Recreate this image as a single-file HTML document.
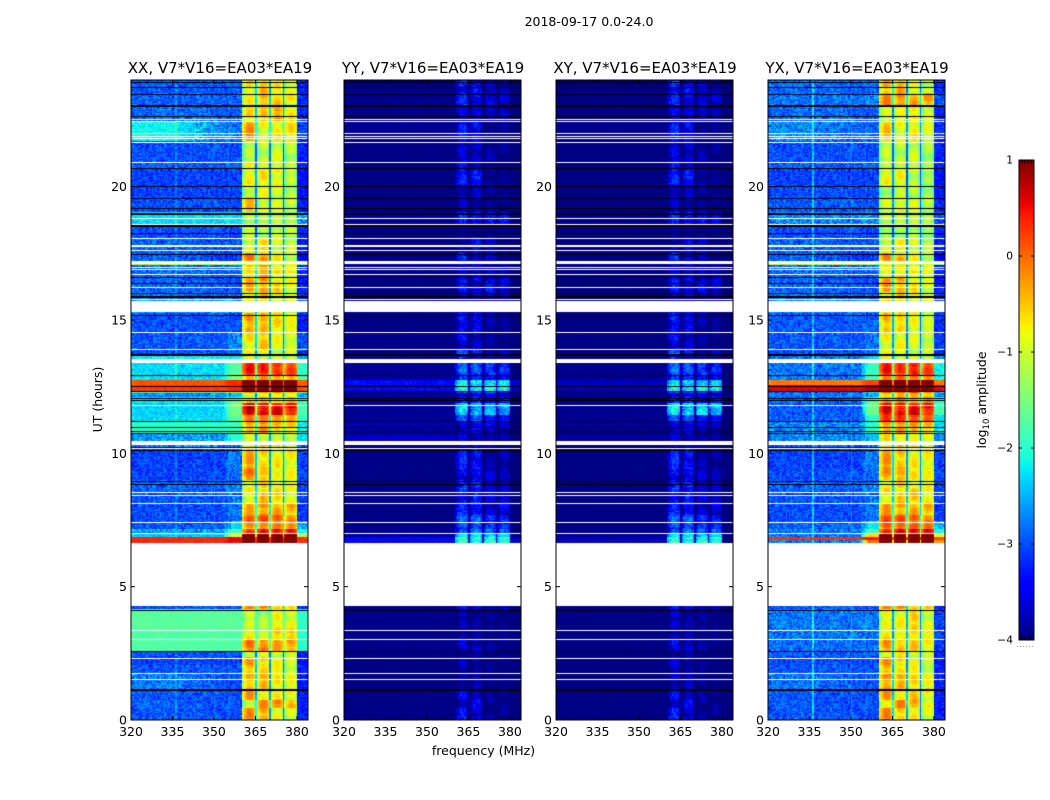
<!DOCTYPE html>
<html lang="en">
<head>
<meta charset="utf-8">
<title>2018-09-17 amplitude waterfall</title>
<style>
html,body{margin:0;padding:0;background:#fff;width:1050px;height:800px;overflow:hidden}
#figure{position:relative;width:1050px;height:800px}
canvas{position:absolute;display:block}
svg{position:absolute;left:0;top:0}
text{font-family:"DejaVu Sans","Liberation Sans",sans-serif;fill:#000}
</style>
</head>
<body>
<div id="figure">
<canvas id="heat-xx" width="177" height="640" style="left:131px;top:80px"></canvas>
<canvas id="heat-yy" width="177" height="640" style="left:344px;top:80px"></canvas>
<canvas id="heat-xy" width="177" height="640" style="left:556px;top:80px"></canvas>
<canvas id="heat-yx" width="177" height="640" style="left:768px;top:80px"></canvas>
<svg id="overlay" width="1050" height="800" viewBox="0 0 1050 800">
<defs><linearGradient id="jet-gradient" x1="0" y1="1" x2="0" y2="0"></linearGradient></defs>
<text x="589" y="26" text-anchor="middle" font-size="12.5">2018-09-17 0.0-24.0</text>
<text x="483.5" y="755" text-anchor="middle" font-size="12.5">frequency (MHz)</text>
<text x="102" y="399.5" text-anchor="middle" font-size="12.5" transform="rotate(-90 102 399.5)">UT (hours)</text>
<text x="986" y="400" text-anchor="middle" font-size="12.5" transform="rotate(-90 986 400)">log<tspan font-size="8.5" dy="3">10</tspan><tspan dy="-3"> amplitude</tspan></text>
</svg>
</div>
<script>
/* Hour at which each horizontal band of the waterfall starts */
const bandStart = [
 0,0.45,0.75,1.13,1.76, 2.06,2.33,2.59,3.04,3.38,
 4.13,4.28,6.65,6.73,6.85,7.01,7.13, 7.43,7.69,8.14,8.63,9.0,
 9.38,10.13,10.46,10.76,11.21, 11.44,11.89,12.08,12.26,12.34,
 12.53,12.75,12.94,13.39,13.69, 13.91,14.55,15.26,15.75,16.05,
 16.61,17.03,17.18,17.51,18.08, 18.6,19.05,19.58,20.03,20.7,
 20.93,21.68,22.46,23.06,23.48];

/* log10 amplitude, off-band 320-350 MHz, per band */
const xxLow = [
 -2.95,-2.9,-2.95,-2.75,-2.95, -3.05,-3,-1.75,-1.75,-1.7,
 -3,-4,0.35,0.35,-2.4,-2.6,-2.95, -3,-3,-2.95,-2.9,-3.05,
 -3.05,-2.7,-2.6,-2,-2.3, -2.35,-2.3,-2.7,-1.8,0.25,
 0.1,-2.3,-2.3,-2.2,-3, -2.95,-3,-2.7,-2.8,-2.9,
 -2.85,-1,-2.9,-2.9,-3, -2.3,-3,-3.05,-3.05,-2.95,
 -3,-2.15,-2.85,-2.9,-2.95];
const yyLow = [
 -3.97,-3.97,-3.97,-3.97,-3.97, -3.97,-3.97,-3.95,-3.95,-3.95,
 -3.97,-4,-3.45,-3.45,-3.9,-3.9,-3.95, -3.97,-3.97,-3.95,-3.95,-3.97,
 -3.97,-3.9,-3.7,-3.8,-3.9, -3.9,-3.9,-3.9,-3.85,-3.4,
 -3.4,-3.85,-3.9,-3.9,-3.97, -3.95,-3.97,-3.9,-3.95,-3.95,
 -3.95,-3.8,-3.95,-3.95,-3.97, -3.9,-3.97,-3.97,-3.97,-3.97,
 -3.97,-3.9,-3.95,-3.95,-3.95];
const xyLow = [
 -3.98,-3.98,-3.98,-3.98,-3.98, -3.98,-3.98,-3.97,-3.97,-3.97,
 -3.98,-4,-3.75,-3.75,-3.92,-3.92,-3.97, -3.98,-3.98,-3.97,-3.97,-3.98,
 -3.98,-3.93,-3.85,-3.9,-3.93, -3.93,-3.93,-3.93,-3.9,-3.75,
 -3.75,-3.9,-3.93,-3.93,-3.98, -3.97,-3.98,-3.93,-3.97,-3.97,
 -3.97,-3.85,-3.97,-3.97,-3.98, -3.93,-3.98,-3.98,-3.98,-3.98,
 -3.98,-3.93,-3.97,-3.97,-3.97];
const yxLow = [
 -2.95,-2.95,-2.95,-2.8,-2.95, -3,-2.95,-2.85,-2.8,-2.8,
 -2.95,-4,-2.8,0.3,-2.8,-2.8,-2.9, -3,-3,-2.95,-2.9,-3,
 -3.05,-2.9,-2.7,-2.7,-2.9, -2.95,-2.9,-2.8,-2.9,0.6,
 -0.1,-2.8,-2.8,-2.8,-3, -2.95,-2.95,-2.8,-2.8,-2.9,
 -2.85,-1,-2.9,-2.9,-3, -2.7,-2.95,-3,-3.05,-2.95,
 -3,-2.7,-2.85,-2.8,-2.85];

/* log10 amplitude, shoulder next to the passband, per band */
const xxNear = [
 -3,-3,-3,-3,-2.95, -3.05,-3,-1.75,-1.75,-1.7,
 -2.9,-4,0.55,0.55,-1,-1.8,-2.3, -2.85,-2.8,-2.8,-2.8,-2.8,
 -2.8,-2.7,-2,-1.9,-1.7, -1.55,-1.6,-2.4,-1.2,0.4,
 0.35,-1.5,-1.7,-2.2,-2.9, -2.7,-3,-2.7,-2.9,-3,
 -2.9,-1.2,-3.1,-3,-3, -2.3,-3,-3.05,-3.05,-2.95,
 -3,-2.8,-2.9,-2.9,-2.95];
const yxNear = [
 -3,-3,-3,-2.95,-2.95, -3,-2.95,-2.85,-2.8,-2.8,
 -2.95,-4,0,0.4,-0.6,-1.8,-2.2, -2.8,-2.8,-2.8,-2.8,-2.8,
 -2.8,-2.7,-2.4,-2,-2, -1.6,-1.7,-2.5,-2.2,0.8,
 0.2,-1.9,-1.9,-2.3,-2.9, -2.8,-2.9,-2.8,-2.9,-3,
 -2.9,-1.2,-3.1,-3,-3, -2.7,-2.95,-3,-3.05,-2.95,
 -3,-2.9,-2.9,-2.7,-2.9];

/* log10 amplitude of the four passband sections (360-365-370-375-380 MHz), per band */
const xxSections = [
 [-0.25,-0.3,-0.9,-1.1],[-0.9,-0.25,-0.2,-0.6],[-0.3,-0.7,-0.8,-1],[-0.5,-0.5,-0.8,-1],[-0.6,-0.6,-0.9,-1.1],
 [-0.35,-0.5,-0.8,-1.1],[-1,-1,-1,-1.2],[-0.15,-0.15,-0.4,-0.5],[-0.7,-1.1,-0.6,-0.8],[-1.1,-1.2,-0.9,-1],
 [-0.2,-0.2,-0.5,-0.9],[-4,-4,-4,-4],[1.1,1.1,1,1],[1.1,1.1,1,1],[1.1,1.1,1,1],[0.4,0.4,0.4,0.3],[-0.3,-0.3,-0.3,-0.5],
 [0,0.1,-0.1,-0.3],[-0.4,-0.2,-0.4,-0.6],[-0.8,-0.5,-0.7,-1],[-0.9,-0.6,-0.8,-1],[-0.1,-0.6,-0.9,-1],
 [-0.35,-0.6,-0.8,-0.9],[-0.6,-0.6,-0.8,-1],[-1.1,-1,-1.1,-1.3],[-0.4,-0.3,-0.6,-0.8],[-0.2,-0.2,-0.3,-0.5],
 [0.6,0.6,0.5,0.35],[-0.5,-0.5,-0.6,-0.7],[-0.9,-0.9,-0.9,-1],[-0.3,-0.3,-0.4,-0.5],[1.1,1.1,1.1,1.1],
 [1.1,1.1,1.1,1.1],[-0.3,-0.3,-0.4,-0.5],[0.4,0.3,0.1,0],[-1,-1,-1.1,-1.2],[-0.8,-0.8,-1.1,-1.2],
 [-0.7,-0.5,-0.9,-1.1],[-0.35,-0.5,-0.7,-1],[-0.8,-0.8,-0.9,-1.1],[-0.6,-0.5,-0.8,-1.1],[-0.4,-0.3,-0.7,-1],
 [-0.6,-0.4,-0.8,-1],[-1,-1,-1,-1],[-0.15,-0.2,-0.8,-1.1],[-0.9,-0.7,-1,-1.2],[-1.1,-1.2,-1.1,-1.3],
 [-1.2,-1.2,-1.2,-1.4],[-0.5,-0.9,-1,-1.2],[-1,-0.9,-1,-1.3],[-0.8,-0.7,-0.9,-1.3],[-0.9,-1.1,-1.1,-1.3],
 [-1.2,-1.1,-1,-1.3],[-0.25,-0.9,-0.8,-0.8],[-0.7,-0.6,-0.5,-0.9],[-0.8,-0.4,-0.6,-0.9],[-0.7,-0.5,-0.8,-1]];
const yySections = [
 [-3.3,-3.4,-3.8,-3.8],[-3.5,-3.4,-3.75,-3.8],[-3.35,-3.5,-3.8,-3.85],[-3.7,-3.7,-3.85,-3.88],[-3.7,-3.75,-3.85,-3.88],
 [-3.6,-3.6,-3.85,-3.88],[-3.8,-3.8,-3.85,-3.88],[-3.5,-3.55,-3.8,-3.85],[-3.65,-3.75,-3.8,-3.85],[-3.7,-3.75,-3.85,-3.88],
 [-3.3,-3.4,-3.6,-3.7],[-4,-4,-4,-4],[-1.95,-1.95,-1.95,-2],[-1.95,-1.95,-1.95,-2],[-2.2,-2.2,-2.2,-2.3],[-2.8,-2.8,-2.8,-2.9],[-3,-3,-3.1,-3.1],
 [-2.9,-2.9,-3.1,-3.1],[-3.1,-3.1,-3.5,-3.4],[-3.2,-3.2,-3.4,-3.4],[-3.1,-3.1,-3.4,-3.6],[-3.4,-3.4,-3.5,-3.7],
 [-3.15,-3.2,-3.7,-3.6],[-3.4,-3.5,-3.7,-3.7],[-3.5,-3.5,-3.7,-3.7],[-3.4,-3.3,-3.4,-3.6],[-3,-3,-3.2,-3.2],
 [-2.35,-2.4,-2.5,-2.5],[-3.1,-3.1,-3.2,-3.2],[-3.4,-3.4,-3.4,-3.5],[-3,-3,-3,-3.1],[-2.05,-2.05,-2.05,-2.1],
 [-2.2,-2.2,-2.2,-2.25],[-3,-3.1,-3.2,-3.2],[-2.9,-3,-3.1,-3.1],[-3.3,-3.4,-3.7,-3.7],[-3,-3.1,-3.5,-3.6],
 [-3.35,-3.55,-3.75,-3.85],[-3.3,-3.4,-3.7,-3.8],[-3.4,-3.5,-3.7,-3.8],[-3.3,-3.5,-3.4,-3.4],[-3.3,-3.4,-3.3,-3.4],
 [-3.5,-3.5,-3.6,-3.7],[-3.5,-3.5,-3.6,-3.7],[-3.2,-3.4,-3.6,-3.7],[-3.6,-3.3,-3.5,-3.9],[-3.85,-3.85,-3.85,-3.9],
 [-3.1,-3.3,-3.3,-3.3],[-3.6,-3.6,-3.8,-3.85],[-3.55,-3.6,-3.75,-3.85],[-3.15,-3.2,-3.8,-3.85],[-3.4,-3.7,-3.85,-3.9],
 [-3.5,-3.5,-3.7,-3.8],[-3.2,-3.3,-3.8,-3.8],[-3.5,-3.5,-3.6,-3.6],[-3.1,-3.3,-3.4,-3.5],[-3.2,-3.3,-3.6,-3.6]];
const xySections = [
 [-3.2,-3.4,-3.75,-3.8],[-3.45,-3.35,-3.75,-3.8],[-3.3,-3.5,-3.75,-3.85],[-3.6,-3.6,-3.8,-3.88],[-3.6,-3.7,-3.85,-3.88],
 [-3.5,-3.55,-3.8,-3.88],[-3.75,-3.75,-3.85,-3.88],[-3.4,-3.5,-3.75,-3.85],[-3.55,-3.7,-3.8,-3.85],[-3.6,-3.7,-3.8,-3.88],
 [-3.25,-3.35,-3.6,-3.7],[-4,-4,-4,-4],[-2,-2,-2,-2.05],[-2,-2,-2,-2.05],[-2.25,-2.25,-2.25,-2.3],[-2.8,-2.8,-2.85,-2.9],[-3,-3,-3.1,-3.15],
 [-2.9,-2.9,-3.1,-3.15],[-3.1,-3.15,-3.5,-3.5],[-3.2,-3.2,-3.45,-3.5],[-3.1,-3.15,-3.45,-3.6],[-3.35,-3.4,-3.55,-3.7],
 [-3.1,-3.2,-3.65,-3.7],[-3.4,-3.5,-3.7,-3.75],[-3.5,-3.5,-3.7,-3.75],[-3.35,-3.35,-3.5,-3.65],[-3,-3,-3.2,-3.25],
 [-2.2,-2.25,-2.3,-2.35],[-3.05,-3.1,-3.2,-3.25],[-3.4,-3.4,-3.45,-3.5],[-3,-3,-3.05,-3.1],[-2.1,-2.1,-2.1,-2.15],
 [-2.35,-2.35,-2.35,-2.4],[-3,-3.1,-3.2,-3.25],[-2.85,-3,-3.1,-3.15],[-3.3,-3.4,-3.7,-3.75],[-3,-3.1,-3.5,-3.6],
 [-3.3,-3.5,-3.75,-3.85],[-3.25,-3.4,-3.7,-3.8],[-3.4,-3.5,-3.7,-3.8],[-3.3,-3.5,-3.5,-3.5],[-3.25,-3.4,-3.4,-3.45],
 [-3.45,-3.5,-3.65,-3.7],[-3.5,-3.5,-3.65,-3.7],[-3.15,-3.4,-3.65,-3.7],[-3.55,-3.4,-3.55,-3.85],[-3.8,-3.8,-3.85,-3.9],
 [-3.1,-3.3,-3.35,-3.4],[-3.55,-3.6,-3.8,-3.85],[-3.5,-3.6,-3.75,-3.85],[-3.1,-3.2,-3.75,-3.85],[-3.35,-3.65,-3.85,-3.9],
 [-3.45,-3.5,-3.7,-3.8],[-3.15,-3.3,-3.75,-3.8],[-3.45,-3.5,-3.6,-3.65],[-3.1,-3.3,-3.45,-3.5],[-3.15,-3.3,-3.6,-3.65]];
const yxSections = [
 [-0.2,-0.5,-0.8,-1.1],[-0.6,-0.2,-0.4,-1],[-0.3,-0.7,-0.6,-1],[-0.3,-0.5,-0.7,-1],[-0.5,-0.7,-0.9,-1.2],
 [-0.3,-0.5,-0.9,-1.2],[-0.8,-0.8,-1,-1.2],[-0.3,-0.5,-0.6,-0.9],[-0.6,-0.9,-0.7,-1],[-0.9,-0.8,-0.7,-1.1],
 [-0.2,-0.2,-0.5,-0.8],[-4,-4,-4,-4],[1.1,1.1,1.05,1.05],[1.1,1.1,1.05,1.05],[1.1,1.1,1.05,1.05],[0.5,0.5,0.5,0.4],[0,-0.1,-0.1,-0.3],
 [0.1,0.1,-0.1,-0.3],[-0.3,-0.3,-0.4,-0.6],[-0.7,-0.6,-0.6,-0.9],[-0.8,-0.6,-0.8,-1],[-0.3,-0.5,-0.8,-1],
 [-0.3,-0.5,-0.8,-0.9],[-0.6,-0.6,-0.8,-1],[-0.7,-0.7,-0.9,-1.1],[-0.3,-0.3,-0.4,-0.7],[0.2,0.2,0.1,-0.1],
 [0.5,0.5,0.45,0.3],[-0.2,-0.2,-0.3,-0.4],[-0.5,-0.5,-0.5,-0.7],[0,0,0,-0.2],[1.1,1.1,1.1,1.1],
 [1.1,1.1,1.1,1],[0,-0.1,-0.1,-0.3],[0.4,0.2,0.2,0],[-0.9,-0.9,-1.1,-1.3],[-0.8,-0.9,-1.1,-1.3],
 [-0.8,-0.8,-1,-1.2],[-0.5,-0.7,-0.9,-1.2],[-0.6,-0.7,-0.9,-1.1],[-0.6,-0.6,-0.8,-1.1],[-0.3,-0.4,-0.8,-1.1],
 [-0.8,-0.8,-0.9,-1.1],[-1,-1,-1,-1.2],[-0.25,-0.3,-0.9,-1.2],[-0.9,-0.8,-1,-1.3],[-1.4,-1.3,-1.3,-1.6],
 [-1.1,-1.1,-1.2,-1.4],[-1,-0.8,-1,-1.3],[-1.2,-1.1,-1.2,-1.5],[-0.8,-0.8,-1.2,-1.5],[-1.2,-1.2,-1.2,-1.4],
 [-1.1,-1.1,-1.1,-1.4],[-0.5,-0.9,-0.8,-1.1],[-1,-0.9,-0.9,-1.2],[-0.2,-0.2,-0.4,-0.5],[-0.4,-0.4,-1,-1.2]];

/* Gain across one 5 MHz section, one entry per 0.5 MHz channel */
const sectionProfile = [-0.55,-0.5,-0.25,-0.05,0.08,0.1,0.08,0.03,-0.1,-0.3];
/* Per-section level adjustment seen in the co-polar panels */
const sectionBias = [0,0,0.05,0.15];
/* Blob-like amplitude ripple along time inside the passband */
const passbandRipple = [0.15,0.2,0.2,0.15,0.05,-0.1,-0.3,-0.45,-0.2,0.05,0.15,0.2,0.15,0.1,-0.05,-0.2,-0.35,-0.15,0.1,0.2,0.2,0.1,-0.15];
const ripplePhase = [0,5,2,7];

/* Narrow interference channels (MHz) and how much each panel lifts them */
const rfiChannels = [336,350,355];
const xxRfiLift = [0.25,0.15,0.15];
const yyRfiLift = [0,0,0];
const xyRfiLift = [0,0,0];
const yxRfiLift = [0.6,0.25,0.15];

/* Flagged (blank) rows and ranges, hours */
const flaggedRows = [22.55,22.46,22.0,21.91,21.84,21.68,20.91,18.81,18.6,18.08,17.61,17.0,16.91,16.71,16.25,15.8,14.56,13.92,11.8,10.2,8.54,8.44,8.13,7.41,7.0,3.36,3.03,2.31,1.75,1.53];
const flaggedRanges = [[17.74,17.81],[17.1,17.21],[15.3,15.72],[13.38,13.54],[10.33,10.46],[4.28,6.65]];

/* Dark rows, hours */
const darkRows = [23.93,23.73,23.46,22.66,20.69,20.04,19.56,19.19,18.26,17.49,16.6,16.4,16.02,15.18,12.93,12.51,12.35,12.09,12.0,11.2,11.0,10.85,10.75,10.25,10.13,8.97,8.84,4.11,2.6];
const thickDarkRows = [23.06,19.02,18.57,15.91,13.71,1.17];

/* Tick labels */
const freqTicks = [320,335,350,365,380];
const hourTicks = [0,5,10,15,20];
const colorTicks = [1,0,-1,-2,-3,-4];
const panelTitles = ["XX, V7*V16=EA03*EA19","YY, V7*V16=EA03*EA19","XY, V7*V16=EA03*EA19","YX, V7*V16=EA03*EA19"];
const panelKeys = ["xx","yy","xy","yx"];
const panelLefts = [131,344,556,768];

/* Fine channel-to-channel grain seen on the off-band noise floor (unit amplitude) */
const grain = [0.2,-0.7,0.9,-0.1,0.5,-0.9,0.1,0.7,-0.4,-0.8,0.6,0.3,-0.6,1,-0.2,0.4,-1,0.8,-0.3,0,
 0.6,-0.5,-0.9,0.3,0.9,-0.2,-0.7,0.5,0.1,-0.4,0.8,-1,0.2,0.7,-0.6,-0.1,0.4,-0.8,1,-0.3,
 0.3,-0.5,0.6,-0.9,0,0.9,-0.4,0.2,-0.7,0.5,-0.2,0.8,-0.6,0.1,-1,0.7,0.4,-0.3,0.6,-0.8,0.1];

const panelLow = {xx:xxLow, yy:yyLow, xy:xyLow, yx:yxLow};
const panelNear = {xx:xxNear, yy:yyLow, xy:xyLow, yx:yxNear};
const panelSections = {xx:xxSections, yy:yySections, xy:xySections, yx:yxSections};
const panelRfi = {xx:xxRfiLift, yy:yyRfiLift, xy:xyRfiLift, yx:yxRfiLift};

/* Axis functions */
const PLOT_W = 177, PLOT_H = 640, PLOT_TOP = 80;
const xScale = f => (f - 320) / 64 * PLOT_W;
const yScale = h => PLOT_H - h / 24 * PLOT_H;
const colorY = v => 160 + (1 - v) / 5 * 480;

function lerpStops(stops, t) {
  for (let i = 1; i < stops.length; i++) {
    if (t <= stops[i][0]) {
      const a = stops[i - 1], b = stops[i];
      return a[1] + (b[1] - a[1]) * (t - a[0]) / (b[0] - a[0]);
    }
  }
  return stops[stops.length - 1][1];
}
const jetR = [[0,0],[0.35,0],[0.66,1],[0.89,1],[1,0.5]];
const jetG = [[0,0],[0.125,0],[0.375,1],[0.64,1],[0.91,0],[1,0]];
const jetB = [[0,0.5],[0.11,1],[0.34,1],[0.65,0],[1,0]];
function jet(v) {
  const t = Math.max(0, Math.min(1, (v + 4) / 5));
  return "rgb(" + Math.round(lerpStops(jetR, t) * 255) + "," + Math.round(lerpStops(jetG, t) * 255) + "," + Math.round(lerpStops(jetB, t) * 255) + ")";
}

function bandIndex(hour) {
  let b = 0;
  while (b + 1 < bandStart.length && bandStart[b + 1] <= hour) b++;
  return b;
}

function passbandValue(low, high, s, f, r) {
  const p = Math.floor((f - 360 - s * 5) * 2);
  if (p === 0 && s > 0) return Math.max(low, high - 1.8);
  const ripple = passbandRipple[(Math.floor(r * 0.6) + ripplePhase[s]) % passbandRipple.length];
  if (high > 0.8) return high + sectionProfile[p] * 0.3 + ripple * 0.15;
  if (high > -1.9) return high + sectionBias[s] + sectionProfile[p] + ripple * 0.6;
  const faded = high < -3 ? high - 0.1 : high;
  return faded + Math.min(sectionProfile[p], 0) + ripple * 0.5;
}

function cellValue(key, b, f, c, r) {
  const low = panelLow[key][b], near = panelNear[key][b], sec = panelSections[key][b];
  let v, amp;
  if (f >= 360 && f < 380) {
    const s = Math.floor((f - 360) / 5), high = sec[s];
    v = passbandValue(low, high, s, f, r);
    amp = high > -1.9 ? 0.1 : Math.min(0.3, (high + 4) * 0.45);
  } else {
    if (f >= 380) v = near - 0.25;
    else if (near < low) v = f < 335 ? low : (f < 355 ? low + (near - low) * (f - 335) / 20 : near);
    else v = f < 353 ? low : (f < 356 ? low + (near - low) * (f - 353) / 3 : near);
    if (v < -2.4) amp = (v + 4) * 0.3;
    else if (low > -1.5 && low < -0.8) amp = 0.6;
    else if (v < -2) amp = 0.2;
    else amp = 0.1;
  }
  v += amp * grain[(c * c * 3 + r * r * 5 + c * r + c + r * 2) % grain.length];
  if (v < -2) rfiChannels.forEach((ch, i) => { if (Math.abs(f - ch) < 0.25) v += panelRfi[key][i]; });
  return v;
}

function drawPanel(key) {
  const ctx = document.getElementById("heat-" + key).getContext("2d");
  const rows = 480, cols = 128, dh = 24 / rows, df = 64 / cols;
  for (let r = 0; r < rows; r++) {
    const hour = r * dh, b = bandIndex(hour + dh / 2);
    const y1 = Math.round(yScale(hour + dh)), y0 = Math.round(yScale(hour));
    for (let c = 0; c < cols; c++) {
      const f = 320 + c * df;
      const x0 = Math.round(xScale(f)), x1 = Math.round(xScale(f + df));
      ctx.fillStyle = jet(cellValue(key, b, f, c, r));
      ctx.fillRect(x0, y1, x1 - x0, y0 - y1);
    }
  }
  ctx.fillStyle = "#fff";
  flaggedRows.forEach(h => ctx.fillRect(0, Math.round(yScale(h)), PLOT_W, 1));
  flaggedRanges.forEach(g => {
    const top = Math.round(yScale(g[1]));
    ctx.fillRect(0, top, PLOT_W, Math.round(yScale(g[0])) - top);
  });
  ctx.fillStyle = "#000";
  darkRows.forEach(h => ctx.fillRect(0, Math.round(yScale(h)), PLOT_W, 1));
  thickDarkRows.forEach(h => ctx.fillRect(0, Math.round(yScale(h)), PLOT_W, 2));
}
panelKeys.forEach(drawPanel);

/* Axes */
const NS = "http://www.w3.org/2000/svg";
const svg = document.getElementById("overlay");
function line(x1, y1, x2, y2) {
  const el = document.createElementNS(NS, "line");
  el.setAttribute("x1", x1);
  el.setAttribute("y1", y1);
  el.setAttribute("x2", x2);
  el.setAttribute("y2", y2);
  el.setAttribute("stroke", "#000");
  el.setAttribute("stroke-width", "1");
  svg.appendChild(el);
  return el;
}
function label(x, y, anchor, size, str) {
  const el = document.createElementNS(NS, "text");
  el.setAttribute("x", x);
  el.setAttribute("y", y);
  el.setAttribute("text-anchor", anchor);
  el.setAttribute("font-size", size);
  el.textContent = str;
  svg.appendChild(el);
  return el;
}

panelKeys.forEach((key, p) => {
  const left = panelLefts[p], right = left + PLOT_W, bottom = PLOT_TOP + PLOT_H;
  const frame = document.createElementNS(NS, "rect");
  frame.setAttribute("x", left);
  frame.setAttribute("y", PLOT_TOP);
  frame.setAttribute("width", PLOT_W);
  frame.setAttribute("height", PLOT_H);
  frame.setAttribute("fill", "none");
  frame.setAttribute("stroke", "#000");
  frame.setAttribute("stroke-width", "1");
  
  
  svg.appendChild(frame);

  const title = label(left + PLOT_W / 2 + 0.5, 73, "middle", 15, panelTitles[p]);
  
  

  freqTicks.forEach(f => {
    const x = left + xScale(f);
    const tb = line(x, bottom, x, bottom - 4);
    
    
    const tt = line(x, PLOT_TOP, x, PLOT_TOP + 4);
    
    
    const tl = label(x, 736, "middle", 12.5, String(f));
    
    
  });
  hourTicks.forEach(h => {
    const y = PLOT_TOP + yScale(h);
    const lt = line(left, y, left + 4, y);
    
    
    const rt = line(right, y, right - 4, y);
    
    
    const yl = label(left - 4, y + 4.5, "end", 12.5, String(h));
    
    
  });
});

/* Colour bar */
const grad = document.getElementById("jet-gradient");
for (let i = 0; i <= 50; i++) {
  const stop = document.createElementNS(NS, "stop");
  stop.setAttribute("offset", (i / 50 * 100) + "%");
  stop.setAttribute("stop-color", jet(-4 + i / 10));
  grad.appendChild(stop);
}
const bar = document.createElementNS(NS, "rect");
bar.setAttribute("x", 1019);
bar.setAttribute("y", 160);
bar.setAttribute("width", 15);
bar.setAttribute("height", 480);
bar.setAttribute("fill", "url(#jet-gradient)");
bar.setAttribute("stroke", "#000");
bar.setAttribute("stroke-width", "1");


svg.appendChild(bar);

colorTicks.forEach(v => {
  const y = colorY(v);
  const a = line(1019, y, 1022, y);
  
  
  const b = line(1034, y, 1031, y);
  
  
  const t = label(1013, y + 3.5, "end", 10.67, v < 0 ? "\u2212" + (-v) : String(v));
  
  
});
[1022,1025,1028,1031].forEach(x => {
  const a = line(x, 160, x, 164);
  
  
  const b = line(x, 640, x, 636);
  
  
});
const dots = line(1017, 646.5, 1034, 646.5);
dots.setAttribute("stroke", "#999");
dots.setAttribute("stroke-dasharray", "1 2");


</script>
</body>
</html>
